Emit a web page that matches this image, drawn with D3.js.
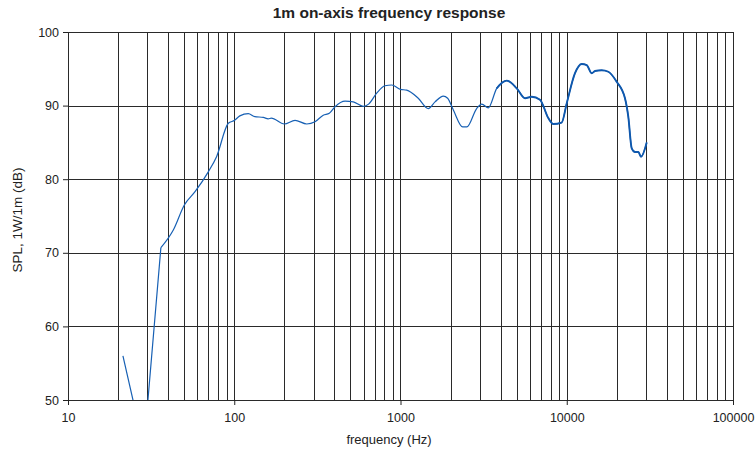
<!DOCTYPE html>
<html>
<head>
<meta charset="utf-8">
<script src="https://cdn.jsdelivr.net/npm/d3@7"></script>
<style>
  body { margin: 0; background: #fff; }
  svg { display: block; font-family: "Liberation Sans", Arial, sans-serif; }
</style>
</head>
<body>
<svg id="chart" width="755" height="452"></svg>
<script>
const freqHz = [21.4, 28.6, 36.2, 43.0, 50.1, 58.1, 69.8, 78.4, 92.1, 100.5, 108, 121.5, 133, 149.6, 160, 167,
  200, 232, 273, 306, 343, 373, 404, 464, 520, 597, 643, 719, 807, 886, 1000, 1089, 1279, 1469, 1613, 1809,
  1921, 2079, 2366, 2506, 2871, 3084, 3374, 3790, 4355, 5003, 5612, 6154, 6904, 7745, 8300, 9325, 9993,
  11210, 12300, 13185, 14130, 14795, 16225, 17790, 19960, 22400, 23450, 24590, 25740, 26960, 27970, 30270];
const splDb = [56.0, 43.5, 70.7, 73.1, 76.5, 78.3, 81.0, 83.1, 87.6, 88.0, 88.6, 88.9, 88.5, 88.4, 88.2, 88.3,
  87.5, 88.0, 87.5, 87.8, 88.7, 88.95, 89.85, 90.6, 90.5, 89.9, 90.2, 91.7, 92.7, 92.8, 92.2, 92.1, 91.0, 89.6, 90.5, 91.3,
  91.0, 89.4, 87.1, 87.1, 89.6, 90.2, 89.7, 92.35, 93.4, 92.35, 91.0, 91.2, 90.8, 88.3, 87.5, 87.7, 90.3,
  94.4, 95.65, 95.5, 94.4, 94.7, 94.8, 94.6, 93.25, 91.0, 88.5, 84.2, 83.7, 83.7, 83.05, 85.0];

const yTicks = [50, 60, 70, 80, 90, 100];
const xTicks = [10, 100, 1000, 10000, 100000];

const margin = {left: 68, right: 22, top: 32, bottom: 52};
const W = 755, H = 452;
const svg = d3.select("#chart");

const x = d3.scaleLog().domain([10, 100000]).range([margin.left, W - margin.right]);
const y = d3.scaleLinear().domain([50, 100]).range([H - margin.bottom, margin.top]);

// log grid: 1..9 in every decade
const gridFreqs = [];
for (let d = 10; d < 100000; d *= 10) for (let k = 1; k < 10; k++) gridFreqs.push(d * k);
gridFreqs.push(100000);

const grid = svg.append("g").attr("shape-rendering", "crispEdges");
grid.selectAll("line.v").data(gridFreqs).join("line")
  .attr("class", "v")
  .attr("x1", d => Math.round(x(d)) + 0.5).attr("x2", d => Math.round(x(d)) + 0.5)
  .attr("y1", y(100)).attr("y2", y(50))
  .attr("stroke", "#2a2a2a").attr("stroke-width", 1);
grid.selectAll("line.h").data(yTicks).join("line")
  .attr("class", "h")
  .attr("x1", x(10)).attr("x2", x(100000))
  .attr("y1", d => Math.round(y(d)) + 0.5).attr("y2", d => Math.round(y(d)) + 0.5)
  .attr("stroke", "#2a2a2a").attr("stroke-width", 1);

// clip so the dip below 50 dB is cut at the frame
svg.append("clipPath").attr("id", "plotclip")
  .append("rect").attr("x", x(10)).attr("y", y(100))
  .attr("width", x(100000) - x(10)).attr("height", y(50) - y(100));

const pts = freqHz.map((f, i) => [f, splDb[i]]);
const straight = d3.line().x(d => x(d[0])).y(d => y(d[1]));
const smooth = d3.line().x(d => x(d[0])).y(d => y(d[1])).curve(d3.curveMonotoneX);

const curve = svg.append("g").attr("clip-path", "url(#plotclip)")
  .attr("fill", "none").attr("stroke-linejoin", "round");
// low end is a few sparse points joined straight
curve.append("path").datum(pts.slice(0, 3)).attr("d", straight)
  .attr("stroke", "#1760b4").attr("stroke-width", 1.2);
curve.append("path").datum(pts.slice(2)).attr("d", smooth)
  .attr("stroke", "#1760b4").attr("stroke-width", 1.2);
// the dense top end of the measurement reads heavier
curve.append("path").datum(pts.filter(d => d[0] >= 3790)).attr("d", smooth)
  .attr("stroke", "#0f58ad").attr("stroke-width", 1.9);

// axes
const yAxis = d3.axisLeft(y).tickValues(yTicks).tickSize(5).tickPadding(4).tickFormat(d3.format("d"));
const gy = svg.append("g").attr("transform", `translate(${x(10)},0)`).call(yAxis);
const xAxis = d3.axisBottom(x).tickValues(xTicks).tickSize(5).tickPadding(8).tickFormat(d3.format("d"));
const gx = svg.append("g").attr("transform", `translate(0,${y(50)})`).call(xAxis);
[gx, gy].forEach(g => {
  g.select(".domain").remove();
  g.selectAll(".tick line").attr("stroke", "#222");
  g.selectAll("text").attr("font-size", 12.5).attr("fill", "#222")
    .attr("font-family", "'Liberation Sans', Arial, sans-serif");
});

svg.append("text").attr("x", 389).attr("y", 18).attr("text-anchor", "middle")
  .attr("font-size", 15.5).attr("font-weight", "bold").attr("fill", "#222")
  .text("1m on-axis frequency response");
svg.append("text").attr("x", 389).attr("y", 444).attr("text-anchor", "middle")
  .attr("font-size", 13).attr("fill", "#222").text("frequency (Hz)");
svg.append("text").attr("transform", `translate(22,220) rotate(-90)`)
  .attr("text-anchor", "middle").attr("font-size", 13.5).attr("fill", "#222")
  .text("SPL, 1W/1m (dB)");
</script>
</body>
</html>
